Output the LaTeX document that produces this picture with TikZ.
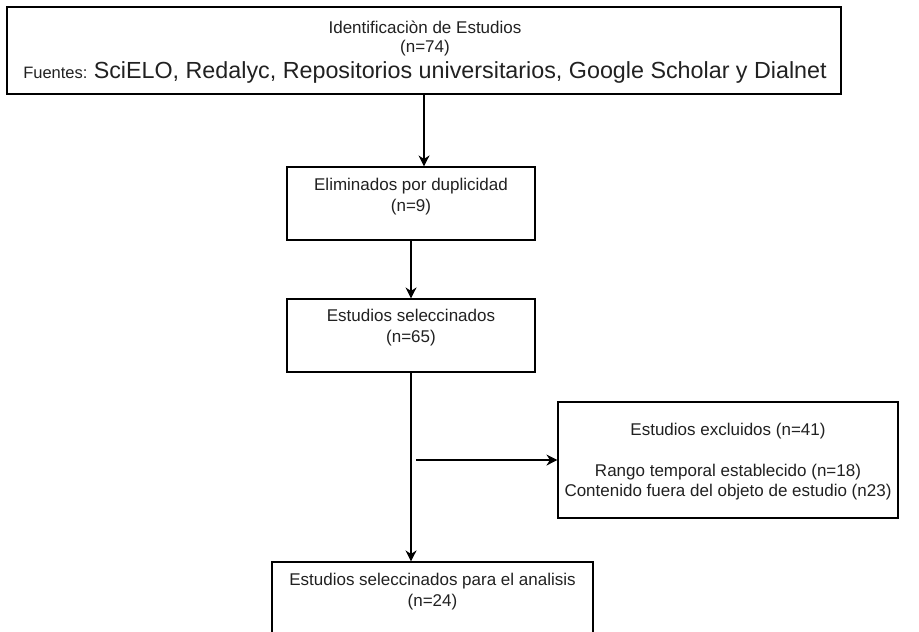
\documentclass[tikz,border=0pt]{standalone}
\usepackage{fontspec}
\setmainfont{Liberation Sans}
\usetikzlibrary{arrows.meta}
\definecolor{txtc}{gray}{0.13}
\begin{document}
\begin{tikzpicture}[x=1pt,y=-1pt,
  box/.style={draw=black, line width=1.1pt, inner sep=0pt, fill=none},
  txt/.style={inner sep=0pt, anchor=base, text=txtc, font=\fontsize{17}{20.5}\selectfont},
  arr/.style={draw=black, line width=1.1pt, -{Stealth[length=11pt,width=11pt,inset=3.5pt]}}]
\useasboundingbox (0,0) rectangle (919,632);
\fill[white] (0,0) rectangle (919,632);
% boxes
\node[box, minimum width=834pt, minimum height=87pt] (top) at (424,50.5) {};
\node[box, minimum width=248pt, minimum height=73pt] (elim) at (411,203.5) {};
\node[box, minimum width=248pt, minimum height=73pt] (sel) at (411,335.5) {};
\node[box, minimum width=340pt, minimum height=116pt] (excl) at (728,460) {};
\node[box, minimum width=321pt, minimum height=73pt] (final) at (432.5,598.5) {};
% texts
\node[txt] (top1) at (425,33.3) {Identificaciòn de Estudios};
\node[txt] (top2) at (425,52.7) {(n=74)};
\node[txt] (top3) at (425,78.3) {{\fontsize{16.5}{20}\selectfont Fuentes:} {\fontsize{23.3}{26}\selectfont SciELO, Redalyc, Repositorios universitarios, Google Scholar y Dialnet}};
\node[txt] (elim1) at (411,190) {Eliminados por duplicidad};
\node[txt] (elim2) at (411,211) {(n=9)};
\node[txt] (sel1) at (411,321.7) {Estudios seleccinados};
\node[txt] (sel2) at (411,342.7) {(n=65)};
\node[txt] (excl1) at (728,435) {Estudios excluidos (n=41)};
\node[txt] (excl2) at (728,476.5) {Rango temporal establecido (n=18)};
\node[txt] (excl3) at (728,496.5) {Contenido fuera del objeto de estudio (n23)};
\node[txt] (final1) at (432.5,585.7) {Estudios seleccinados para el analisis};
\node[txt] (final2) at (432.5,606.7) {(n=24)};
% connectors
\draw[arr] (top.south) -- (top.south |- elim.north);
\draw[arr] (elim.south) -- (sel.north);
\draw[arr] (sel.south) -- (sel.south |- final.north);
\coordinate (hstart) at (416,460);
\draw[arr] (hstart) -- (hstart -| excl.west);
\end{tikzpicture}
\end{document}
